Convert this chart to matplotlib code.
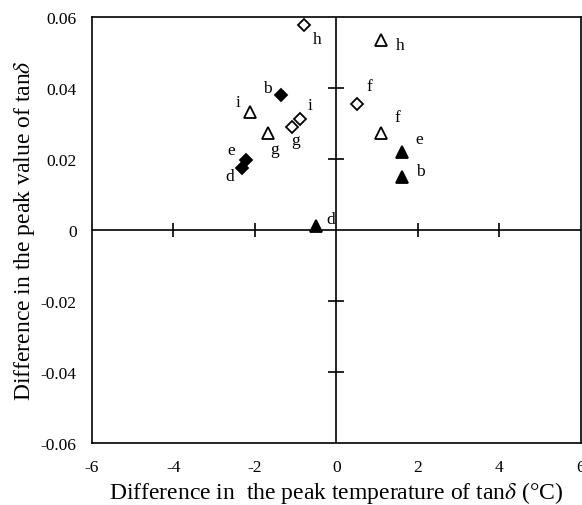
import matplotlib
matplotlib.use("Agg")
import matplotlib.pyplot as plt

plt.rcParams['font.family'] = ['Liberation Serif', 'DejaVu Serif']
plt.rcParams['mathtext.fontset'] = 'stix'

# Open diamonds
od_x = [-0.80, -0.88, -1.10, 0.50]
od_y = [0.0578, 0.0314, 0.0290, 0.0356]
od_lab = ['h', 'i', 'g', 'f']
od_off = [(10, -10), (7, 10), (3, -9), (9, 13)]

# Filled diamonds
fd_x = [-1.36, -2.21, -2.31]
fd_y = [0.0379, 0.0197, 0.0175]
fd_lab = ['b', 'e', 'd']
fd_off = [(-10, 5), (-11, 7), (-9, -6)]

# Open triangles
ot_x = [1.09, -2.11, -1.68, 1.09]
ot_y = [0.0536, 0.0332, 0.0274, 0.0272]
ot_lab = ['h', 'i', 'g', 'f']
ot_off = [(14, -4), (-9, 7), (5, -12), (12, 12)]

# Filled triangles
ft_x = [1.62, 1.62, -0.49]
ft_y = [0.0220, 0.0150, 0.0012]
ft_lab = ['e', 'b', 'd']
ft_off = [(12, 9), (13, 4), (10, 5)]

xticks = [-6, -4, -2, 0, 2, 4, 6]
yticks = [-0.06, -0.04, -0.02, 0, 0.02, 0.04, 0.06]
ytick_labels = ['-0.06', '-0.04', '-0.02', '0', '0.02', '0.04', '0.06']

fig = plt.figure(figsize=(5.82, 5.06), dpi=100)
ax = fig.add_axes([0.158, 0.1225, 0.8398, 0.842])
ax.set_xlim(-6, 6)
ax.set_ylim(-0.06, 0.06)
for s in ax.spines.values():
    s.set_linewidth(1.2)

ax.set_xticks(xticks)
ax.set_xticklabels([str(t) for t in xticks])
ax.set_yticks(yticks)
ax.set_yticklabels(ytick_labels)
ax.tick_params(axis='both', length=0, labelsize=12.5)
ax.tick_params(axis='x', pad=11.5)
ax.tick_params(axis='y', pad=11)

# center cross lines
ax.axhline(0, color='black', lw=1.2, zorder=1)
ax.axvline(0, color='black', lw=1.2, zorder=1)
inner_x = [t for t in xticks if t not in (-6, 0, 6)]
inner_y = [t for t in yticks if t not in (-0.06, 0, 0.06)]
ax.plot(inner_x, [0]*len(inner_x), ls='none', marker='|', ms=10, mew=1.2, color='black', zorder=1)
ax.plot([0]*len(inner_y), inner_y, ls='none', marker='_', ms=11, mew=1.2, color='black', zorder=1)

ax.plot(od_x, od_y, ls='none', marker='D', ms=6.2, mfc='white', mec='black', mew=1.3, zorder=3)
ax.plot(fd_x, fd_y, ls='none', marker='D', ms=6.2, mfc='black', mec='black', mew=1.3, zorder=3)
ax.plot(ot_x, ot_y, ls='none', marker='^', ms=9, mfc='white', mec='black', mew=1.3, zorder=3)
ax.plot(ft_x, ft_y, ls='none', marker='^', ms=9, mfc='black', mec='black', mew=1.3, zorder=3)

for xs, ys, labs, offs in [(od_x, od_y, od_lab, od_off), (fd_x, fd_y, fd_lab, fd_off),
                           (ot_x, ot_y, ot_lab, ot_off), (ft_x, ft_y, ft_lab, ft_off)]:
    for x, y, l, o in zip(xs, ys, labs, offs):
        ax.annotate(l, (x, y), xytext=o, textcoords='offset points',
                    ha='center', va='center', fontsize=12.5)

ax.set_xlabel(r"Difference in  the peak temperature of tan$\delta$ (°C)", fontsize=17)
ax.set_ylabel(r"Difference in the peak value of tan$\delta$", fontsize=17)
ax.xaxis.set_label_coords(0.5, -0.085)
ax.yaxis.set_label_coords(-0.112, 0.5)

fig.savefig('out.png', dpi=100)
